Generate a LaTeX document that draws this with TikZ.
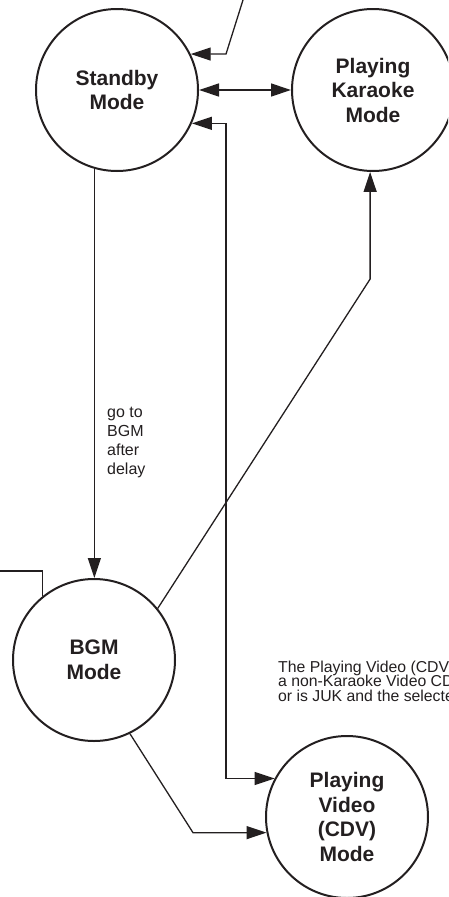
\documentclass[tikz,border=0pt]{standalone}
\usepackage{fontspec}
\setmainfont{Liberation Sans}
\usetikzlibrary{arrows.meta}
\definecolor{ink}{RGB}{35,31,32}
\begin{document}
\begin{tikzpicture}[x=1pt,y=-1pt,
  state/.style={circle,draw=ink,line width=2pt,minimum size=162pt,inner sep=0pt,
    align=center,text=ink,font=\bfseries\fontsize{21}{24.5}\selectfont},
  conn/.style={draw=ink,line width=1.3pt},
  arr/.style={-{Triangle[length=20pt,width=13pt]}},
  arrboth/.style={{Triangle[length=20pt,width=13pt]}-{Triangle[length=20pt,width=13pt]}},
  lbl/.style={inner sep=0pt,align=left,text=ink,font=\fontsize{16}{18.7}\selectfont},
  note/.style={inner sep=0pt,align=left,text=ink,font=\fontsize{15.8}{14.8}\selectfont}]
\useasboundingbox (0,0) rectangle (448,897);
\clip (0,0) rectangle (448,897);

\node[state] (S) at (117,90) {Standby\\Mode};
\node[state] (K) at (373,90) {Playing\\Karaoke\\Mode};
\node[state] (B) at (94,660) {BGM\\Mode};
\node[state] (V) at (347,817) {Playing\\Video\\(CDV)\\Mode};

\node[lbl,anchor=base west] (delay) at (107,474) {go to\\BGM\\after\\delay};
\node[note,anchor=base west] (note) at (278,701.7) {The Playing Video (CDV)\\a non-Karaoke Video CD\\or is JUK and the selected};

\coordinate (topin) at (243,0);
\coordinate (lin) at (0,571);

\draw[conn,arr] (topin) -- (S.26.8 -| 226,0) -- (S.26.8);
\draw[conn,arrboth] (S.east) -- (K.west);
\draw[conn,arrboth] (S.-24.7) -- (S.-24.7 -| 226,0) -- (V.152.8 -| 226,0) -- (V.152.8);
\draw[conn,arr] (S.254.4) -- (S.254.4 |- B.north);
\draw[conn] (lin) -- (lin -| B.129.4) -- (B.129.4);
\draw[conn,arr] (B.39.6) -- (K.-92 |- 0,279) -- (K.-92);
\draw[conn,arr] (B.-64.4) -- (V.191.3 -| 193,0) -- (V.191.3);
\end{tikzpicture}
\end{document}
